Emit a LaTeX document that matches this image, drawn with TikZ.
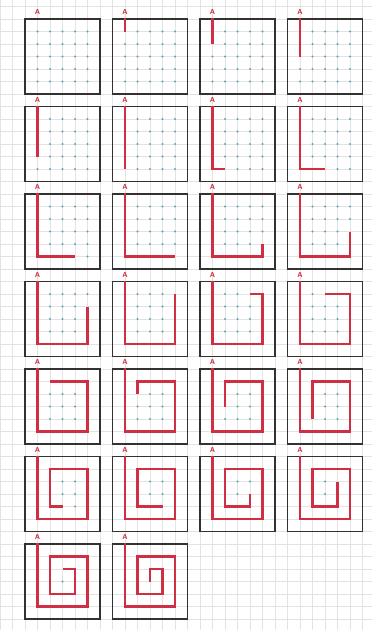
\documentclass[tikz,border=0pt]{standalone}
\definecolor{spiralred}{RGB}{208,46,66}
\definecolor{dotcyan}{RGB}{80,168,188}
\definecolor{boxgray}{RGB}{50,50,50}
\newcommand\spiralpts{1/1,1/2,1/3,1/4,1/5,2/5,3/5,4/5,5/5,5/4,5/3,5/2,5/1,4/1,3/1,2/1,2/2,2/3,2/4,3/4,4/4,4/3,4/2,3/2,3/3}
\begin{document}
\begin{tikzpicture}[x=0.4cm,y=-0.4cm,
  gridline/.style={black!11,line width=0.55pt},
  panelbox/.style={draw=boxgray,line width=1.3pt},
  redpath/.style={draw=spiralred,line width=2pt},
  dotmark/.style={fill=dotcyan},
  alabel/.style={text=spiralred,font=\sffamily\bfseries\fontsize{6.5}{6.5}\selectfont,inner sep=0pt}]
\fill[white] (0,0) rectangle (29.76,50.4);
\useasboundingbox (0,0) rectangle (29.76,50.4);
\begin{scope}
  \clip (0,0) rectangle (29.76,50.4);
  \foreach \i in {0,...,29} \draw[gridline] (\i,0) -- (\i,50.4);
  \foreach \k in {0,...,49} \draw[gridline] (0,0.52+\k) -- (29.76,0.52+\k);
\end{scope}
\foreach \n in {0,...,25} {
  \pgfmathtruncatemacro\col{mod(\n,4)}
  \pgfmathtruncatemacro\row{div(\n,4)}
  \begin{scope}[shift={(2+7*\col,1.52+7*\row)}]
    \draw[panelbox] (0,0) rectangle (6,6);
    \node[alabel] (A\n) at (1,-0.55) {A};
    \gdef\mypath{}
    \foreach \px/\py [count=\j] in \spiralpts {
      \ifnum\j>\n
        \fill[dotmark] (\px,\py) circle (0.095);
      \else
        \xdef\mypath{\mypath -- (\px,\py)}
      \fi
    }
    \ifnum\n>0 \draw[redpath] (1,-0.05) \mypath; \fi
  \end{scope}
}
\end{tikzpicture}
\end{document}
